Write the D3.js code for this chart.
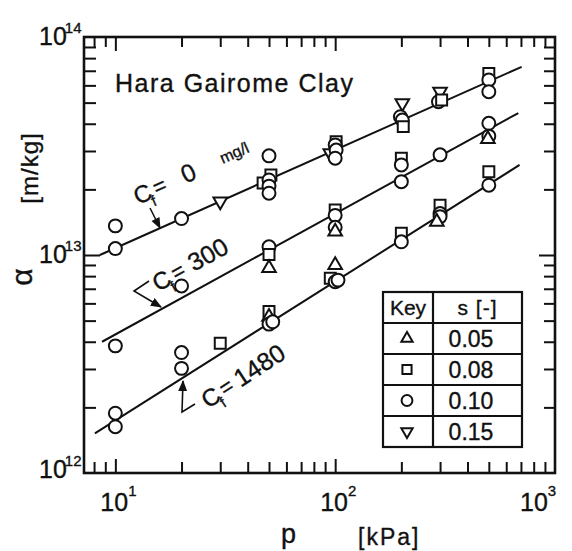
<!DOCTYPE html>
<html>
<head>
<meta charset="utf-8">
<script src="https://cdn.jsdelivr.net/npm/d3@7"></script>
<style>
  body { margin: 0; background: #fff; }
  text { font-family: "Liberation Sans", Arial, sans-serif; fill: #111; stroke: #111; stroke-width: 0.35; }
</style>
</head>
<body>
<div id="chart"></div>
<script>
// ---- data ----
const sValues = [0.05, 0.08, 0.10, 0.15];
const sLabels = ["0.05", "0.08", "0.10", "0.15"];

// [p (kPa), alpha (m/kg), s]
const cf0Points = [
  [10, 1.36e13, 0.10], [10, 1.07e13, 0.10], [20, 1.47e13, 0.10], [30, 1.76e13, 0.15],
  [50, 2.85e13, 0.10], [47, 2.14e13, 0.08], [51, 2.33e13, 0.08], [50, 2.21e13, 0.10],
  [50, 2.07e13, 0.10], [50, 1.92e13, 0.10],
  [95, 2.93e13, 0.15], [101, 3.31e13, 0.08], [100, 3.20e13, 0.10], [101, 3.03e13, 0.10], [100, 2.78e13, 0.10],
  [202, 4.97e13, 0.15], [198, 4.31e13, 0.10], [202, 4.16e13, 0.10], [204, 3.88e13, 0.08],
  [300, 5.61e13, 0.15], [295, 5.05e13, 0.10], [305, 5.14e13, 0.08],
  [500, 6.81e13, 0.08], [500, 6.35e13, 0.10], [500, 5.61e13, 0.10]
];
const cf300Points = [
  [10, 3.83e12, 0.10], [20, 7.21e12, 0.10],
  [50, 1.09e13, 0.10], [50, 1.005e13, 0.08], [50, 8.71e12, 0.05],
  [100, 1.61e13, 0.08], [100, 1.52e13, 0.10], [100, 1.34e13, 0.10], [100, 1.28e13, 0.05],
  [200, 2.78e13, 0.08], [200, 2.59e13, 0.10], [200, 2.17e13, 0.10],
  [300, 2.88e13, 0.10],
  [500, 4.02e13, 0.10], [500, 3.51e13, 0.10], [495, 3.40e13, 0.05]
];
const cf1480Points = [
  [10, 1.88e12, 0.10], [10, 1.63e12, 0.10], [20, 3.57e12, 0.10], [20, 3.02e12, 0.10],
  [30, 3.94e12, 0.08],
  [50, 5.50e12, 0.08], [50, 5.21e12, 0.05], [50, 4.82e12, 0.10], [52, 4.94e12, 0.10],
  [100, 9.0e12, 0.05], [95, 7.83e12, 0.08], [100, 7.54e12, 0.10], [103, 7.67e12, 0.10],
  [200, 1.26e13, 0.08], [200, 1.15e13, 0.10],
  [300, 1.69e13, 0.08], [300, 1.55e13, 0.10], [300, 1.50e13, 0.10], [290, 1.42e13, 0.05],
  [500, 2.41e13, 0.08], [500, 2.09e13, 0.10]
];

// fitted straight lines (end points)
const cf0Line = [[8.5, 1.0e13], [705, 7.3e13]];
const cf300Line = [[8.7, 4.0e12], [681, 4.48e13]];
const cf1480Line = [[8.07, 1.52e12], [690, 2.59e13]];

const xTickValues = [8, 9, 10, 20, 30, 40, 50, 60, 70, 80, 90, 100, 200, 300, 400, 500, 600, 700, 800, 900];
const yTickValues = [2e12, 3e12, 4e12, 5e12, 6e12, 7e12, 8e12, 9e12, 1e13,
                     2e13, 3e13, 4e13, 5e13, 6e13, 7e13, 8e13, 9e13];
const xLabelExps = [1, 2, 3];
const yLabelExps = [12, 13, 14];

// ---- layout ----
const W = 572, H = 551;
const pl = 84, pr = 555, pt = 37, pb = 473;

const svg = d3.select("#chart").append("svg")
  .attr("width", W).attr("height", H);

const x = d3.scaleLog().domain([7.2, 1000]).range([pl, pr]);
const y = d3.scaleLog().domain([1e12, 1e14]).range([pb, pt]);

const isMajor = v => Math.abs(Math.log10(v) - Math.round(Math.log10(v))) < 1e-9;

// ticks on all four sides, pointing inwards
const gb = svg.append("g").attr("transform", `translate(0,${pb})`)
  .call(d3.axisBottom(x).tickValues(xTickValues).tickFormat("").tickSize(-10));
gb.selectAll(".tick line").attr("y2", d => isMajor(d) ? -14 : -11);
const gt = svg.append("g").attr("transform", `translate(0,${pt})`)
  .call(d3.axisTop(x).tickValues(xTickValues).tickFormat("").tickSize(-10));
gt.selectAll(".tick line").attr("y2", d => isMajor(d) ? 14 : 10);
const gl = svg.append("g").attr("transform", `translate(${pl},0)`)
  .call(d3.axisLeft(y).tickValues(yTickValues).tickFormat("").tickSize(-10));
gl.selectAll(".tick line").attr("x2", d => isMajor(d) ? 16 : 12);
const gr = svg.append("g").attr("transform", `translate(${pr},0)`)
  .call(d3.axisRight(y).tickValues(yTickValues).tickFormat("").tickSize(-10));
gr.selectAll(".tick line").attr("x2", d => isMajor(d) ? -16 : -11);
svg.selectAll(".domain").remove();
svg.selectAll(".tick line").attr("stroke", "#111").attr("stroke-width", 2);

svg.append("rect")
  .attr("x", pl).attr("y", pt)
  .attr("width", pr - pl).attr("height", pb - pt)
  .attr("fill", "none").attr("stroke", "#111").attr("stroke-width", 2.6);

// tick labels 10^n
xLabelExps.forEach(e => {
  const t = svg.append("text")
    .attr("x", Math.min(x(Math.pow(10, e)) - 15, 520)).attr("y", 511)
    .attr("font-size", 25).text("10");
  t.append("tspan").attr("dy", -15).attr("dx", 0).attr("font-size", 15).text(e);
});
yLabelExps.forEach(e => {
  const t = svg.append("text")
    .attr("x", 39).attr("y", Math.min(y(Math.pow(10, e)) + 8, 478))
    .attr("font-size", 25).text("10");
  t.append("tspan").attr("dy", -12).attr("dx", -2).attr("font-size", 15).text(e);
});

// axis titles
svg.append("text").attr("x", 281).attr("y", 543).attr("font-size", 27).text("p");
svg.append("text").attr("x", 358).attr("y", 545).attr("font-size", 23)
  .attr("letter-spacing", 2).text("[kPa]");
svg.append("text").attr("transform", "translate(38,168) rotate(-90)")
  .attr("text-anchor", "middle").attr("font-size", 24).attr("letter-spacing", 1).text("[m/kg]");
svg.append("text").attr("transform", "translate(32,277) rotate(-90)")
  .attr("text-anchor", "middle").attr("font-size", 30).text("α");

// title
svg.append("text").attr("x", 115).attr("y", 92).attr("font-size", 25)
  .attr("letter-spacing", 1.5).text("Hara Gairome Clay");

// fitted lines
const line = d3.line().x(d => x(d[0])).y(d => y(d[1]));
[cf0Line, cf300Line, cf1480Line].forEach(l => {
  svg.append("path").attr("d", line(l))
    .attr("fill", "none").attr("stroke", "#111").attr("stroke-width", 2);
});

// leaders and arrows
svg.append("defs").append("marker")
  .attr("id", "arr").attr("viewBox", "0 0 10 10").attr("refX", 9).attr("refY", 5)
  .attr("markerWidth", 7).attr("markerHeight", 7).attr("orient", "auto")
  .append("path").attr("d", "M0,1 L10,5 L0,9 Z").attr("fill", "#111");
const leaders = [
  [[150, 208], [160, 228]],
  [[149, 281], [134, 291], [161, 307]],
  [[195, 404], [182, 412], [183, 381]]
];
leaders.forEach(pts => {
  svg.append("path").attr("d", d3.line()(pts))
    .attr("fill", "none").attr("stroke", "#111").attr("stroke-width", 1.6)
    .attr("marker-end", "url(#arr)");
});

// curve labels
function cfLabel(tx, ty, ang, value, unit) {
  const g = svg.append("g").attr("transform", `translate(${tx},${ty}) rotate(${ang})`);
  g.append("text").attr("x", 0).attr("y", 0).attr("font-size", 24).text("C");
  g.append("text").attr("x", 14).attr("y", 8).attr("font-size", 15).text("f");
  g.append("text").attr("x", 21).attr("y", -1).attr("font-size", 22).text("=");
  g.append("text").attr("x", value.x).attr("y", 0).attr("font-size", 25).text(value.t);
  if (unit) g.append("text").attr("x", 94).attr("y", -3).attr("font-size", 16).text(unit);
}
cfLabel(138, 205, -24, { x: 52, t: "0" }, "mg/l");
cfLabel(158, 292, -29, { x: 41, t: "300" });
cfLabel(208, 409, -33, { x: 39, t: "1480" });

// markers
const symType = { 0.05: d3.symbolTriangle, 0.08: d3.symbolSquare, 0.10: d3.symbolCircle, 0.15: d3.symbolTriangle };
const symSize = { 0.05: 80, 0.08: 120, 0.10: 132, 0.15: 80 };
function drawPoints(data) {
  svg.append("g").selectAll("path").data(data).enter().append("path")
    .attr("d", d => d3.symbol().type(symType[d[2]]).size(symSize[d[2]])())
    .attr("transform", d => `translate(${x(d[0])},${y(d[1])})` + (d[2] === 0.15 ? " rotate(180)" : ""))
    .attr("fill", "#fff").attr("stroke", "#111").attr("stroke-width", 2);
}
drawPoints(cf0Points);
drawPoints(cf300Points);
drawPoints(cf1480Points);

// key table
const kx0 = 383, kx1 = 433, kx2 = 522, ky0 = 292, rowH = 31;
const key = svg.append("g");
key.append("rect").attr("x", kx0).attr("y", ky0)
  .attr("width", kx2 - kx0).attr("height", rowH * 5)
  .attr("fill", "#fff").attr("stroke", "#111").attr("stroke-width", 2.2);
key.append("line").attr("x1", kx1).attr("x2", kx1).attr("y1", ky0).attr("y2", ky0 + rowH * 5)
  .attr("stroke", "#111").attr("stroke-width", 2.2);
d3.range(1, 5).forEach(i => {
  key.append("line").attr("x1", kx0).attr("x2", kx2)
    .attr("y1", ky0 + rowH * i).attr("y2", ky0 + rowH * i)
    .attr("stroke", "#111").attr("stroke-width", 2.2);
});
key.append("text").attr("x", (kx0 + kx1) / 2).attr("y", ky0 + 23).attr("text-anchor", "middle")
  .attr("font-size", 21).text("Key");
key.append("text").attr("x", (kx1 + kx2) / 2).attr("y", ky0 + 23).attr("text-anchor", "middle")
  .attr("font-size", 21).attr("letter-spacing", 1).text("s [-]");
sValues.forEach((s, i) => {
  const cy = ky0 + rowH * (i + 1) + rowH / 2;
  key.append("path")
    .attr("d", d3.symbol().type(symType[s]).size(symSize[s] * 0.7)())
    .attr("transform", `translate(${(kx0 + kx1) / 2 - 1},${cy})` + (s === 0.15 ? " rotate(180)" : ""))
    .attr("fill", "none").attr("stroke", "#111").attr("stroke-width", 2);
  key.append("text").attr("x", 471).attr("y", cy + 8).attr("text-anchor", "middle")
    .attr("font-size", 23).text(sLabels[i]);
});
</script>
</body>
</html>
